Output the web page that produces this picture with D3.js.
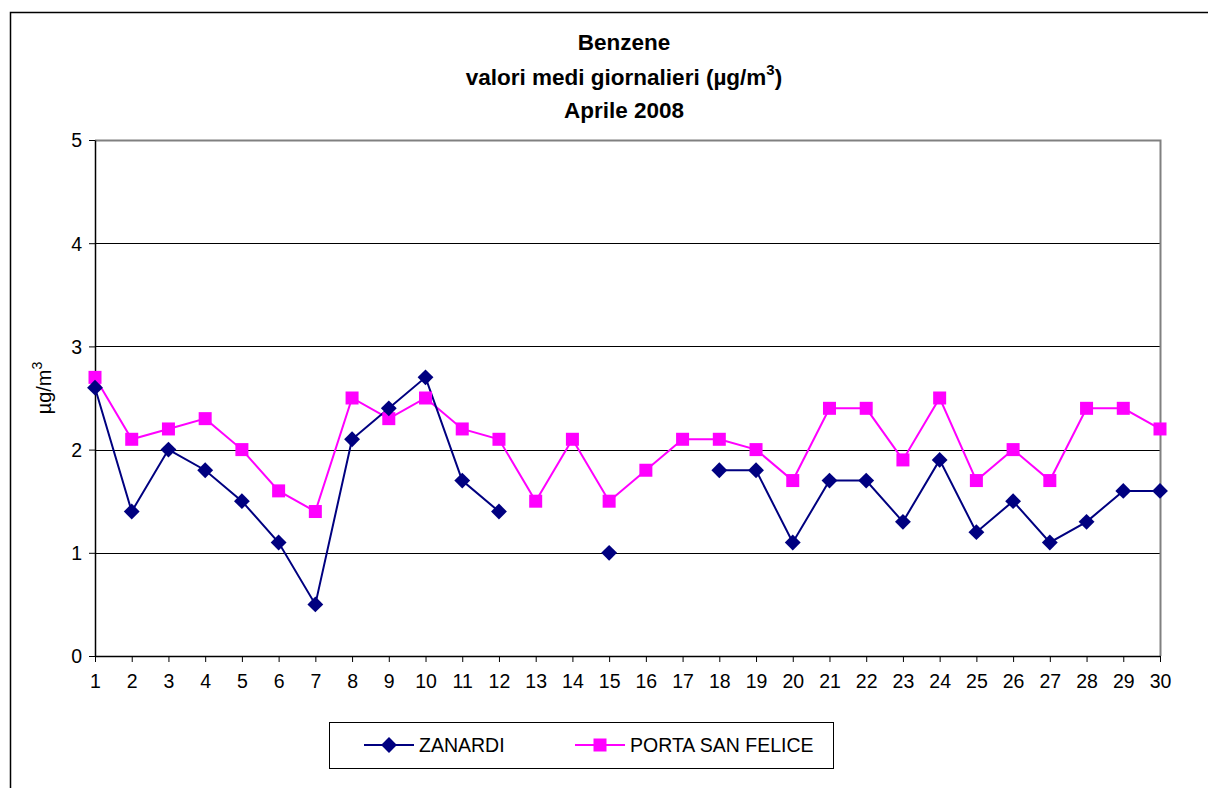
<!DOCTYPE html>
<html>
<head>
<meta charset="utf-8">
<script src="https://cdn.jsdelivr.net/npm/d3@7"></script>
<style>
 body{margin:0;background:#fff}
 text{font-family:"Liberation Sans",Arial,sans-serif}
</style>
</head>
<body>
<svg id="chart" width="1208" height="788"></svg>
<script>
var days=d3.range(1,31)
var zanardi=[2.6,1.4,2.0,1.8,1.5,1.1,0.5,2.1,2.4,2.7,1.7,1.4,null,null,1.0,null,null,1.8,1.8,1.1,1.7,1.7,1.3,1.9,1.2,1.5,1.1,1.3,1.6,1.6]
var portaSanFelice=[2.7,2.1,2.2,2.3,2.0,1.6,1.4,2.5,2.3,2.5,2.2,2.1,1.5,2.1,1.5,1.8,2.1,2.1,2.0,1.7,2.4,2.4,1.9,2.5,1.7,2.0,1.7,2.4,2.4,2.2]
var yTicks=[0,1,2,3,4,5]
var seriesNames=["ZANARDI","PORTA SAN FELICE"]

var svg=d3.select("#chart")
var pLeft=95,pRight=1160,pTop=140,pBottom=656

// outer chart frame
svg.append("path")
 .attr("d","M10.5,788 L10.5,12.5 L1208,12.5")
 .attr("fill","none").attr("stroke","black").attr("stroke-width",1.5)

var x=d3.scaleLinear().domain([1,30]).range([pLeft,pRight])
var y=d3.scaleLinear().domain([0,5]).range([pBottom,pTop])

// gridlines
svg.append("g").selectAll("line")
 .data(yTicks.filter(function(d){return d>0&&d<5}))
 .enter().append("line")
 .attr("x1",pLeft).attr("x2",pRight)
 .attr("y1",function(d){return Math.round(y(d))+0.5})
 .attr("y2",function(d){return Math.round(y(d))+0.5})
 .attr("stroke","black").attr("stroke-width",1)

// plot border top/right gray
svg.append("path")
 .attr("d","M"+pLeft+","+(pTop+0.5)+" L"+(pRight+0.5)+","+(pTop+0.5)+" L"+(pRight+0.5)+","+pBottom)
 .attr("fill","none").attr("stroke","#808080").attr("stroke-width",2)

// axes
var yAxis=svg.append("g")
 .attr("transform","translate("+pLeft+",0)")
 .call(d3.axisLeft(y).tickValues(yTicks).tickFormat(d3.format("d")).tickSize(6).tickPadding(7).tickSizeOuter(0))
var xAxis=svg.append("g")
 .attr("transform","translate(0,"+pBottom+")")
 .call(d3.axisBottom(x).tickValues(days).tickFormat(d3.format("d")).tickSize(6).tickPadding(12).tickSizeOuter(0))
svg.selectAll(".domain").attr("stroke","black").attr("stroke-width",1.5)
svg.selectAll(".tick line").attr("stroke","black")
svg.selectAll(".tick text").attr("font-size","19.5px").attr("fill","black")
 .style("font-family","'Liberation Sans',Arial,sans-serif")
yAxis.selectAll(".tick text").attr("dy","0.35em")

// y label
svg.append("text")
 .attr("transform","translate(51,388) rotate(-90)")
 .attr("text-anchor","middle").attr("font-size","20px")
 .html('µg/m<tspan dy="-9" font-size="14px">3</tspan>')

// title
var title=svg.append("g").attr("text-anchor","middle").attr("font-weight","bold").attr("font-size","22.5px")
title.append("text").attr("x",624).attr("y",50).text("Benzene")
title.append("text").attr("x",624).attr("y",85)
 .html('valori medi giornalieri (µg/m<tspan dy="-10" font-size="15px">3</tspan><tspan dy="10">)</tspan>')
title.append("text").attr("x",624).attr("y",118).text("Aprile 2008")

// lines
var line=d3.line()
 .defined(function(d){return d!=null})
 .x(function(d,i){return x(days[i])})
 .y(function(d){return y(d)})

var colors=["#000080","#FF00FF"]
var diamond=d3.symbol().type(d3.symbolDiamond2).size(160)

svg.append("path").datum(portaSanFelice)
 .attr("d",line).attr("fill","none").attr("stroke",colors[1]).attr("stroke-width",2)
svg.append("path").datum(zanardi)
 .attr("d",line).attr("fill","none").attr("stroke",colors[0]).attr("stroke-width",2)

svg.append("g").selectAll("rect")
 .data(portaSanFelice.map(function(v,i){return {d:days[i],v:v}}).filter(function(p){return p.v!=null}))
 .enter().append("rect")
 .attr("x",function(p){return x(p.d)-6.5})
 .attr("y",function(p){return y(p.v)-6.5})
 .attr("width",13).attr("height",13)
 .attr("fill",colors[1])

svg.append("g").selectAll("path")
 .data(zanardi.map(function(v,i){return {d:days[i],v:v}}).filter(function(p){return p.v!=null}))
 .enter().append("path")
 .attr("d",diamond)
 .attr("transform",function(p){return "translate("+x(p.d)+","+y(p.v)+")"})
 .attr("fill",colors[0])

// legend
var legend=svg.append("g")
legend.append("rect").attr("x",329.5).attr("y",722.5).attr("width",504).attr("height",46)
 .attr("fill","white").attr("stroke","black").attr("stroke-width",1)
var lx=[364,575]
seriesNames.forEach(function(name,i){
  var g=legend.append("g").attr("transform","translate("+lx[i]+",745)")
  g.append("line").attr("x1",0).attr("x2",50).attr("y1",0).attr("y2",0)
   .attr("stroke",colors[i]).attr("stroke-width",2)
  if(i==0){
    g.append("path").attr("d",diamond).attr("transform","translate(25,0)").attr("fill",colors[0])
  }else{
    g.append("rect").attr("x",18.5).attr("y",-6.5).attr("width",13).attr("height",13).attr("fill",colors[1])
  }
  g.append("text").attr("x",55).attr("y",0).attr("dy","0.35em").attr("font-size","19.5px").text(name)
})
</script>
</body>
</html>
